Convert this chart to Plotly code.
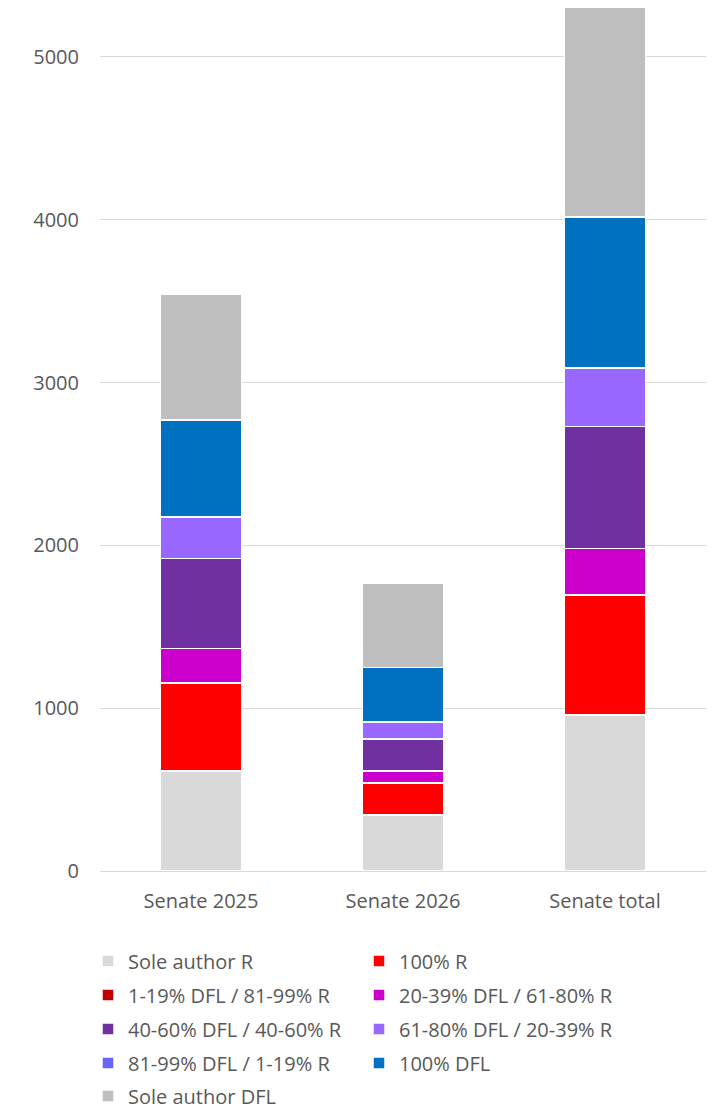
import plotly.graph_objects as go

categories = ["Senate 2025", "Senate 2026", "Senate total"]
series_names = [
    "Sole author R",
    "100% R",
    "1-19% DFL / 81-99% R",
    "20-39% DFL / 61-80% R",
    "40-60% DFL / 40-60% R",
    "61-80% DFL / 20-39% R",
    "81-99% DFL / 1-19% R",
    "100% DFL",
    "Sole author DFL",
]
sole_author_r = [613, 344, 957]
r_100 = [540, 196, 736]
dfl_1_19 = [4, 2, 6]
dfl_20_39 = [209, 73, 282]
dfl_40_60 = [552, 197, 749]
dfl_61_80 = [252, 104, 356]
dfl_81_99 = [4, 2, 6]
dfl_100 = [595, 331, 926]
sole_author_dfl = [773, 516, 1289]
series_values = [sole_author_r, r_100, dfl_1_19, dfl_20_39, dfl_40_60,
                 dfl_61_80, dfl_81_99, dfl_100, sole_author_dfl]
colors = ["#D9D9D9", "#FF0000", "#C00000", "#CC00CC", "#7030A0",
          "#9966FF", "#6666FF", "#0070C0", "#BFBFBF"]
y_ticks = [0, 1000, 2000, 3000, 4000, 5000]

W, H = 709, 1102
font_family = "Open Sans, Liberation Sans, sans-serif"
legend_rows_y = [953, 987, 1021, 1055, 1088]

fig = go.Figure()
for i, (name, vals, col) in enumerate(zip(series_names, series_values, colors)):
    row = i // 2
    lg = "legend" if row == 0 else f"legend{row + 1}"
    fig.add_trace(go.Bar(
        x=categories, y=vals, name=name, legend=lg,
        marker=dict(color=col, line=dict(color="white", width=1.5)),
    ))

legend_common = dict(
    orientation="h",
    x=80 / W, xref="container", xanchor="left",
    yref="container", yanchor="middle",
    entrywidth=226, entrywidthmode="pixels",
    itemwidth=30,
    traceorder="normal",
    bgcolor="rgba(0,0,0,0)",
    font=dict(size=20, color="#595959"),
)
legends = {}
for r, yc in enumerate(legend_rows_y):
    key = "legend" if r == 0 else f"legend{r + 1}"
    legends[key] = dict(legend_common, y=1 - yc / H)

fig.update_layout(
    barmode="stack",
    bargap=0.6,
    width=W, height=H,
    margin=dict(l=92, r=11, t=0, b=239),
    paper_bgcolor="white", plot_bgcolor="white",
    font=dict(family=font_family, size=20, color="#595959"),
    showlegend=True,
    xaxis=dict(showline=True, linecolor="#D9D9D9", linewidth=1,
               ticks="", ticklabelstandoff=12,
               tickfont=dict(size=20, color="#595959")),
    yaxis=dict(range=[0, 5300], tickvals=y_ticks, showgrid=True,
               gridcolor="#D9D9D9", gridwidth=1, zeroline=False,
               showline=False, ticks="", ticklabelstandoff=20,
               tickfont=dict(size=20, color="#595959")),
    **legends,
)

fig.write_html("out.html")
